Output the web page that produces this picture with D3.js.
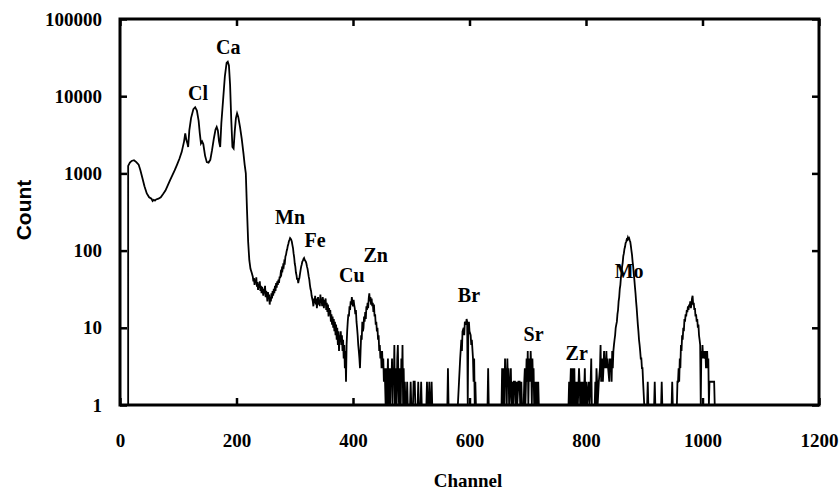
<!DOCTYPE html>
<html>
<head>
<meta charset="utf-8">
<script src="https://cdn.jsdelivr.net/npm/d3@7"></script>
<style>
  body { margin: 0; background: #fff; }
  svg { display: block; }
  .serif { font-family: "Liberation Serif", "Times New Roman", serif; font-weight: bold; }
</style>
</head>
<body>
<svg width="839" height="491"></svg>
<script>
// spectrum, [channel, count], split by region
var lowRegion = [
  [14,1],[14,1250],[17,1380],[20,1450],[24,1480],[28,1400],[32,1300],[35,1100],[38,900],[42,680],
  [46,550],[50,490],[54,470],[56,440],[58,455],[60,445],[62,460],[66,470],[70,490],[74,540],[78,600],[82,700],
  [86,820],[90,950],[94,1100],[98,1300],[102,1550],[106,1900],[110,2600],[112,3300],[114,2700],
  [116,2400],[117,2200],[119,3600],[122,5200],[126,6800],[129,7200],[132,6500],[135,4800],
  [137,3300],[139,2450],[141,2600],[143,2400],[146,1700],[149,1400],[152,1380],[155,1500],
  [158,2000],[161,2800],[164,3700],[166,4000],[168,3600],[170,2600],[172,2200],[174,4500],
  [177,9000],[180,18000],[183,27000],[185,28000],[187,25000],[189,14000],[191,5000],[193,2200],
  [195,2100],[197,3500],[199,5200],[201,6000],[203,5400],[206,4000],[209,2800],[212,1800],
  [214,1300],[216,1000],[218,340],[220,130],[222,75],[224,58],[226,52]
];
var mnFeRegion = [
  [228,46],[229,40],[230,44],[231,36],[232,42],[233,38],[234,45],[235,34],[236,39],[237,31],
  [238,37],[239,33],[240,40],[241,30],[242,35],[243,28],[244,34],[245,30],[246,26],[247,32],
  [248,28],[249,35],[250,25],[251,30],[252,27],[253,22],[254,29],[255,24],[256,27],[257,20],
  [258,25],[259,22],[260,28],[261,24],[262,30],[263,26],[264,32],[265,28],[266,35],[267,30],
  [268,38],[269,33],[270,40],[271,36],[272,42],[273,38],[274,46],[275,44],[276,52],[277,50],
  [278,58],[279,56],[280,64],[281,62],[282,72],[283,70],[284,84],[285,88],[286,98],[287,104],
  [288,115],[289,122],[290,132],[291,138],[292,145],[293,142],[294,138],[295,130],[296,118],
  [297,108],[298,92],[299,82],[300,68],[301,62],[302,52],[303,48],[304,42],[305,44],[306,38],
  [307,42],[308,44],[309,50],[310,56],[311,62],[312,66],[313,72],[314,74],[315,78],[316,80],
  [317,76],[318,74],[319,72],[320,68],[321,62],[322,58],[323,52],[324,46],[325,42],[326,36],
  [327,32],[328,30],[329,26],[330,24],[331,22],[332,19],[333,24],[334,21],[335,26],[336,20],
  [337,24],[338,18],[339,22],[340,25],[341,20],[342,23],[343,19],[344,27],[345,21],[346,24],
  [347,19],[348,25],[349,22],[350,18],[351,23],[352,20],[353,24],[354,17],[355,21],[356,16],
  [357,20],[358,14],[359,18],[360,15],[361,17],[362,12],[363,15],[364,11],[365,14],[366,10],
  [367,13],[368,9],[369,12],[370,8],[371,11],[372,7],[373,10],[374,6],[375,9],[376,5],
  [377,8],[378,7]
];
var cuZnRegion = [
  [379,9],[380,6],[381,8],[382,5],[383,7],[384,4],[385,6],[386,3],[387,5],[388,2],[389,6],
  [390,9],[391,12],[392,15],[393,14],[394,19],[395,17],[396,22],[397,20],[398,25],[399,21],
  [400,19],[401,23],[402,20],[403,18],[404,15],[405,17],[406,12],[407,10],[408,8],[409,6],
  [410,5],[411,4],[412,3],[413,5],[414,8],[415,7],[416,12],[417,9],[418,10],[419,14],
  [420,12],[421,16],[422,13],[423,19],[424,17],[425,21],[426,18],[427,24],[428,28],[429,22],
  [430,25],[431,20],[432,24],[433,19],[434,21],[435,16],[436,20],[437,14],[438,15],[439,11],
  [440,12],[441,9],[442,10],[443,7],[444,8],[445,5],[446,6],[447,4],[448,5],[449,3],
  [450,5],[451,3],[452,4],[453,2],[454,3],[455,2]
];
var tailNoise = [
  [456,1],[457,3],[458,1],[459,2],[460,4],[461,1],[462,3],[463,2],[464,1],[465,3],[466,2],
  [467,4],[468,1],[469,3],[470,2],[471,6],[472,1],[473,3],[474,2],[475,1],[476,4],[477,6],
  [478,2],[479,1],[480,3],[481,2],[482,1],[483,4],[484,2],[485,6],[486,1],[487,3],[488,1],
  [489,2],[490,1],[492,1],[493,2],[494,1],[498,1],[499,2],[500,1],[503,1],[504,2],[506,2],
  [507,1],[511,1],[512,2],[513,1],[516,1],[517,2],[518,1],[526,1],[527,2],[528,1],[530,1],
  [531,2],[532,1],[534,1],[535,2],[536,1]
];
var brRegion = [
  [562,1],[563,3],[564,1],[580,1],[582,2],[584,4],[586,7],[587,5],[588,9],[590,10],[591,8],
  [592,12],[594,11],[595,13],[596,12],[597,1],[598,11],[599,12],[600,9],[602,8],[603,6],
  [604,7],[606,4],[607,2],[608,4],[609,1],[610,2],[611,1],[631,1],[632,3],[633,1]
];
var srRegion = [
  [655,1],[656,3],[657,1],[658,2],[659,3],[660,1],[661,4],[662,2],[663,3],[664,1],[665,4],
  [666,2],[667,3],[668,1],[670,2],[671,3],[672,1],[674,2],[675,1],[676,2],[678,2],[679,1],
  [681,2],[682,1],[684,2],[686,2],[687,1],[689,2],[690,1],[693,1],[694,2],[695,3],[696,1],
  [697,2],[698,4],[699,2],[700,5],[701,1],[702,3],[703,4],[704,2],[705,5],[706,3],[707,1],
  [708,4],[709,2],[710,3],[711,1],[713,2],[714,1],[716,2],[717,1],[718,2],[719,1]
];
var zrMoRegion = [
  [770,1],[771,2],[772,1],[774,3],[775,1],[776,2],[777,3],[778,1],[779,2],[780,3],[781,1],
  [782,2],[783,1],[785,2],[786,1],[788,3],[789,2],[790,1],[792,2],[793,1],[795,2],[796,1],
  [798,3],[799,1],[801,2],[802,1],[805,2],[806,1],[808,2],[809,4],[810,1],[815,1],[816,2],
  [817,1],[818,3],[819,2],[820,1],[822,2],[824,3],[825,6],[826,2],[827,3],[828,4],[829,2],
  [830,3],[831,5],[832,3],[833,4],[834,3],[835,5],[836,3],[837,4],[838,3],[840,2],[841,4],
  [842,3],[843,4],[844,2],[845,5],[846,3],[847,5],[848,6],[849,7],[850,8],[851,10],[852,11],
  [853,12],[854,15],[855,17],[856,22],[857,25],[858,32],[859,36],[860,45],[861,52],[862,62],
  [863,70],[864,85],[865,92],[866,105],[867,112],[868,125],[869,130],[870,140],[871,138],
  [872,148],[873,142],[874,145],[875,136],[876,130],[877,115],[878,100],[879,88],[880,72],
  [881,62],[882,50],[883,42],[884,34],[885,28],[886,22],[887,18],[888,14],[889,11],[890,9],
  [891,7],[892,6],[893,5],[894,4],[895,4],[896,3],[897,3],[898,2],[900,1]
];
var moBetaRegion = [
  [905,1],[906,2],[907,1],[917,1],[918,2],[919,1],[929,1],[930,2],[931,1],[947,1],[948,2],
  [949,1],[956,1],[957,2],[958,2],[959,3],[960,2],[961,4],[962,3],[963,6],[964,5],[965,8],
  [966,7],[967,10],[968,9],[969,13],[970,12],[971,15],[972,14],[973,17],[974,16],[975,19],
  [976,17],[977,20],[978,19],[979,22],[980,18],[981,20],[982,24],[983,26],[984,20],[985,21],
  [986,17],[987,18],[988,14],[989,15],[990,12],[991,13],[992,10],[993,11],[994,8],[995,7],
  [996,6],[997,1],[998,5],[999,4],[1000,6],[1001,4],[1002,5],[1004,4],[1005,5],[1006,3],
  [1008,5],[1009,3],[1010,4],[1011,1],[1012,2],[1020,2],[1021,1]
];

// peak labels
var elements = ['Cl','Ca','Mn','Fe','Cu','Zn','Br','Sr','Zr','Mo'];
var labelChannel = [134, 186, 292, 335, 398, 439, 599, 710, 784, 874];
var labelCount = [11000, 44000, 272, 139, 49, 88, 26.6, 8.4, 4.65, 54];

var xTicks = [0, 200, 400, 600, 800, 1000, 1200];
var yTicks = [1, 10, 100, 1000, 10000, 100000];

var spectrum = lowRegion.concat(mnFeRegion, cuZnRegion, tailNoise, brRegion,
  srRegion, zrMoRegion, moBetaRegion);

var svg = d3.select("svg");
var plotL = 120, plotR = 819, plotT = 19, plotB = 405;

var x = d3.scaleLinear().domain([0, 1200]).range([plotL, plotR]);
var y = d3.scaleLog().domain([1, 100000]).range([plotB, plotT]);

// spectrum line
var line = d3.line()
  .x(function(d){ return x(d[0]); })
  .y(function(d){ return y(d[1]); });

svg.append("path")
  .datum(spectrum)
  .attr("d", line)
  .attr("fill", "none")
  .attr("stroke", "#000")
  .attr("stroke-width", 1.8)
  .attr("stroke-linejoin", "miter");

// axes, ticks pointing inward
var gx = svg.append("g").attr("transform", "translate(0," + plotB + ")")
  .call(d3.axisBottom(x).tickValues(xTicks).tickSize(-7).tickPadding(29).tickFormat(d3.format("d")));
var gy = svg.append("g").attr("transform", "translate(" + plotL + ",0)")
  .call(d3.axisLeft(y).tickValues(yTicks).tickSize(-7).tickPadding(18).tickFormat(d3.format("d")));
var gt = svg.append("g").attr("transform", "translate(0," + plotT + ")")
  .call(d3.axisTop(x).tickValues(xTicks).tickSize(-7).tickFormat(""));
var gr = svg.append("g").attr("transform", "translate(" + plotR + ",0)")
  .call(d3.axisRight(y).tickValues(yTicks).tickSize(-7).tickFormat(""));

[gx, gy, gt, gr].forEach(function(g){
  g.select(".domain").remove();
  g.selectAll(".tick line").attr("stroke", "#000").attr("stroke-width", 2.5);
  g.selectAll("text")
    .attr("class", "serif")
    .attr("fill", "#000")
    .style("font-size", "19px");
});

svg.append("rect")
  .attr("x", plotL).attr("y", plotT)
  .attr("width", plotR - plotL).attr("height", plotB - plotT)
  .attr("fill", "none").attr("stroke", "#000").attr("stroke-width", 3);

// element labels
svg.selectAll(".peak")
  .data(elements)
  .enter()
  .append("text")
  .attr("class", "peak serif")
  .attr("x", function(d, i){ return x(labelChannel[i]); })
  .attr("y", function(d, i){ return y(labelCount[i]); })
  .attr("dy", "0.35em")
  .attr("text-anchor", "middle")
  .style("font-size", "20px")
  .text(function(d){ return d; });

// axis titles
svg.append("text")
  .attr("class", "serif")
  .attr("x", 468).attr("y", 487)
  .attr("text-anchor", "middle")
  .style("font-size", "19px")
  .text("Channel");

svg.append("text")
  .attr("transform", "translate(31,210) rotate(-90)")
  .attr("text-anchor", "middle")
  .style("font-family", "'Liberation Sans', Arial, sans-serif")
  .style("font-weight", "bold")
  .style("font-size", "21px")
  .text("Count");
</script>
</body>
</html>
